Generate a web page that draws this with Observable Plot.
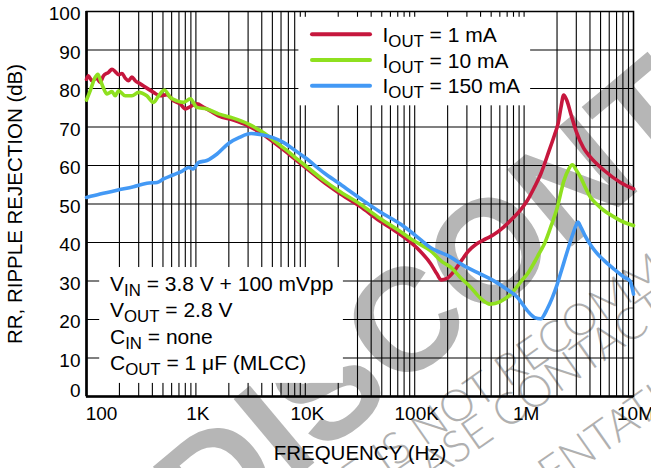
<!DOCTYPE html>
<html>
<head>
<meta charset="utf-8">
<script src="https://cdn.jsdelivr.net/npm/d3@7"></script>
<script src="https://cdn.jsdelivr.net/npm/@observablehq/plot@0.6"></script>
<style>
  html, body { margin: 0; padding: 0; background: #fff; }
  #chart { width: 651px; height: 468px; overflow: hidden; }
</style>
</head>
<body>
<div id="chart"></div>
<script>
// ---------- data ----------
const freq1mA = [100,104,112,124,133,143,159,171,183,196,211,226,242,260,279,310,356,410,472,544,625,719,800,890,1020,1180,1350,1610,2200,3000,3900,5000,6500,8000,10000,15000,20000,31600,48000,60000,85000,110000,140000,160000,175000,195000,228000,270000,310000,367000,450000,525000,650000,800000,930000,1070000,1250000,1420000,1690000,1900000,2050000,2170000,2300000,2450000,2700000,3000000,3500000,4000000,5400000,7600000,10000000];
const rr1mA   = [82.4,83.3,82,82.7,81.6,83.3,84.2,85,84.4,83.6,83.9,82.7,82,83,82,81.2,80.1,79,78.1,78.4,76.8,76,74.7,75.3,76,75.1,74.2,72.9,71.8,70.3,68.5,66.3,63.8,61.7,59.5,55.5,53,49.4,45.6,43.8,40.8,38,34.5,31.8,30.3,30.6,32.5,35.5,37.8,39.6,41,42,44,46.5,48.5,50.9,54.5,57.8,63.8,68,71,75,78.3,77,73,68.8,64.5,62.3,58.7,55.6,53.9];

const freq10mA = [100,108,120,127,133,143,154,171,183,196,226,260,299,356,410,456,515,583,670,770,890,1020,1260,1610,2200,3000,3900,5000,6500,8000,10000,15000,20000,31600,48000,70000,100000,139000,180000,213000,260000,324000,400000,490000,600000,700000,807000,930000,1070000,1250000,1420000,1530000,1750000,2010000,2310000,2550000,2760000,3000000,3290000,3600000,4060000,4600000,5370000,6500000,7600000,10000000];
const rr10mA   = [77,79.4,82.9,83.7,82.4,80.1,78.6,79.2,78.1,79.4,78.1,78.1,79,78.1,76.4,78.1,79.6,77.7,76.8,76.4,77.3,75.1,74.7,73.4,72.3,70.8,69,66.8,64.3,62.2,60,56,53.5,50,46.3,43.3,40.3,37.9,34.9,33.6,31,28.4,25.5,24,24.6,25.8,27.5,29.8,31.8,35,37.9,39.6,44,49.1,56,59,60.2,58.8,56.9,54.5,51.7,50,48.3,46.8,45.7,44.4];

const freq150mA = [100,133,190,269,357,442,506,625,743,858,941,1060,1260,1560,2000,2500,3200,4000,5000,6300,8000,10000,15000,20000,31600,48000,74000,100000,139000,213000,281000,400000,525000,700000,867000,1070000,1250000,1420000,1630000,1800000,2000000,2200000,2500000,2800000,3000000,3100000,3300000,3600000,4000000,4500000,5400000,6500000,8200000,9300000,9700000,10000000];
const rr150mA   = [51.7,52.6,53.6,54.5,55.4,55.6,56.5,57.6,58.5,59.5,59.1,60.8,61.3,63,65.8,67.3,68.3,68,67.3,66,64,62,58,55.5,51.5,48,44.8,42,38.7,36.2,34,31.8,30.1,27.8,25.8,22.3,20.5,20.2,22.8,25.5,29,32.8,38,42.3,44.6,45.3,44,41.8,39.6,37.6,35.3,33.3,31,30,28.3,26.6];

const seriesNames  = ["1 mA", "10 mA", "150 mA"];
const legendLabels = ["I_{OUT} = 1 mA", "I_{OUT} = 10 mA", "I_{OUT} = 150 mA"];
const conditions   = ["V_{IN} = 3.8 V + 100 mVpp", "V_{OUT} = 2.8 V", "C_{IN} = none", "C_{OUT} = 1 \u03bcF (MLCC)"];

const yTicks = [0,10,20,30,40,50,60,70,80,90,100];
const xTickValues = [100, 1e3, 1e4, 1e5, 1e6, 1e7];
const xTickLabels = ["100", "1K", "10K", "100K", "1M", "10M"];
const xTitle = "FREQUENCY (Hz)";
const yTitle = "RR, RIPPLE REJECTION (dB)";
const watermark = "DISCONTINUED";
const watermarkNotes = ["THIS DEVICE IS NOT RECOMMENDED FOR NEW DESIGN.", "PLEASE CONTACT YOUR ON SEMICONDUCTOR", "REPRESENTATIVE FOR INFORMATION"];

// ---------- build ----------
const colors = ["#c6173d", "#8fe01f", "#4399f5"];
const allF = [freq1mA, freq10mA, freq150mA];
const allV = [rr1mA, rr10mA, rr150mA];
const rows = seriesNames.flatMap((s, k) => allF[k].map((f, i) => ({f, v: allV[k][i], s})));

const xGrid = [];
for (let d = 100; d < 1e7; d *= 10) for (let m = 1; m < 10; m++) xGrid.push(d * m);
xGrid.push(1e7);
const yGrid = yTicks.filter(v => v > 0 && v < 100);

// white boxes (legend & conditions) in data units
const boxes = [
  {x1: 8.74e3, x2: 1.147e6, y1: 75.5, y2: 98.5},
  {x1: 132, x2: 2.23e4, y1: 3.4, y2: 33.5}
];

const fontFam = "'Liberation Sans', Arial, Helvetica, sans-serif";
const fmt = v => xTickLabels[xTickValues.indexOf(v)];

const plot = Plot.plot({
  width: 651, height: 468,
  marginLeft: 86, marginRight: 18, marginTop: 11, marginBottom: 72,
  x: {type: "log", domain: [100, 1e7]},
  y: {domain: [0, 100]},
  style: {fontFamily: fontFam, fontSize: "19px", background: "white", color: "black"},
  marks: [
    Plot.ruleX(xGrid, {stroke: "#000", strokeWidth: 1.1}),
    Plot.ruleY(yGrid, {stroke: "#000", strokeWidth: 1.2}),
    Plot.rect(boxes, {x1: "x1", x2: "x2", y1: "y1", y2: "y2", fill: "white"}),
    Plot.frame({stroke: "#000", strokeWidth: 1.5}),
    Plot.ruleX([100], {stroke: "#000", strokeWidth: 2.6}),
    Plot.ruleY([0], {stroke: "#000", strokeWidth: 2.6}),
    Plot.line(rows, {x: "f", y: "v", z: "s", stroke: d => colors[seriesNames.indexOf(d.s)], strokeWidth: 3.6, curve: "monotone-x", strokeLinejoin: "round", strokeLinecap: "round"}),
    Plot.axisY(yTicks.filter(v => v > 0), {tickSize: 0, tickPadding: 6, label: null, dy: 2.5, fontSize: 19}),
    Plot.axisY([0], {tickSize: 0, tickPadding: 6, label: null, dy: -6, fontSize: 19}),
    Plot.axisX(xTickValues.slice(1), {tickSize: 0, tickPadding: 10, label: null, tickFormat: fmt, dx: 2, fontSize: 19}),
    Plot.axisX([100], {tickSize: 0, tickPadding: 10, label: null, tickFormat: fmt, dx: 15, fontSize: 19}),
    Plot.text([xTitle], {frameAnchor: "bottom", dy: 57, lineAnchor: "middle", textAnchor: "middle", fontSize: 20.5}),
    Plot.text([yTitle], {frameAnchor: "left", dx: -71, rotate: -90, lineAnchor: "middle", textAnchor: "middle", fontSize: 20.5})
  ]
});
document.getElementById("chart").append(plot);

// ---------- watermark (below everything) ----------
const svg = d3.select(plot);
const firstG = plot.querySelector("g");
const wm = d3.select(plot.insertBefore(document.createElementNS("http://www.w3.org/2000/svg", "g"), firstG))
  .attr("text-anchor", "start");
wm.append("text")
  .attr("transform", "translate(210,550) rotate(-40)")
  .attr("font-family", fontFam).attr("font-weight", "bold").attr("font-size", 146)
  .attr("fill", "#b6b6b6").text(watermark);
const notePos = [[163, 630], [372, 524], [426, 578]];
watermarkNotes.forEach((t, i) => {
  wm.append("text")
    .attr("transform", `translate(${notePos[i][0]},${notePos[i][1]}) rotate(-35)`)
    .attr("font-family", "Lato, " + fontFam).attr("font-weight", 300).attr("font-size", 44)
    .attr("fill", "#b0b0b0").text(t);
});

// ---------- legend & conditions with subscripts ----------
function rich(g, x, y, str, size, subSize) {
  const t = g.append("text").attr("x", x).attr("y", y).attr("font-size", size)
    .attr("font-family", fontFam).attr("fill", "#000").attr("text-anchor", "start");
  const re = /_\{([^}]*)\}/g;
  let last = 0, m, shift = 0;
  while ((m = re.exec(str))) {
    if (m.index > last) { t.append("tspan").attr("dy", -shift).text(str.slice(last, m.index)); shift = 0; }
    t.append("tspan").attr("font-size", subSize).attr("dy", 5 - shift).text(m[1]);
    shift = 5;
    last = re.lastIndex;
  }
  if (last < str.length) t.append("tspan").attr("dy", -shift).text(str.slice(last));
}
const lg = svg.append("g").attr("text-anchor", "start");
legendLabels.forEach((lab, i) => {
  const base = 41.7 + i * 25.8;
  lg.append("line").attr("x1", 312).attr("x2", 370).attr("y1", base - 7.5).attr("y2", base - 7.5)
    .attr("stroke", colors[i]).attr("stroke-width", 4).attr("stroke-linecap", "round");
  rich(lg, 382.5, base, lab, 21, 16.8);
});
conditions.forEach((c, i) => rich(lg, 110, 291 + i * 26.4, c, 21, 16.8));
</script>
</body>
</html>
